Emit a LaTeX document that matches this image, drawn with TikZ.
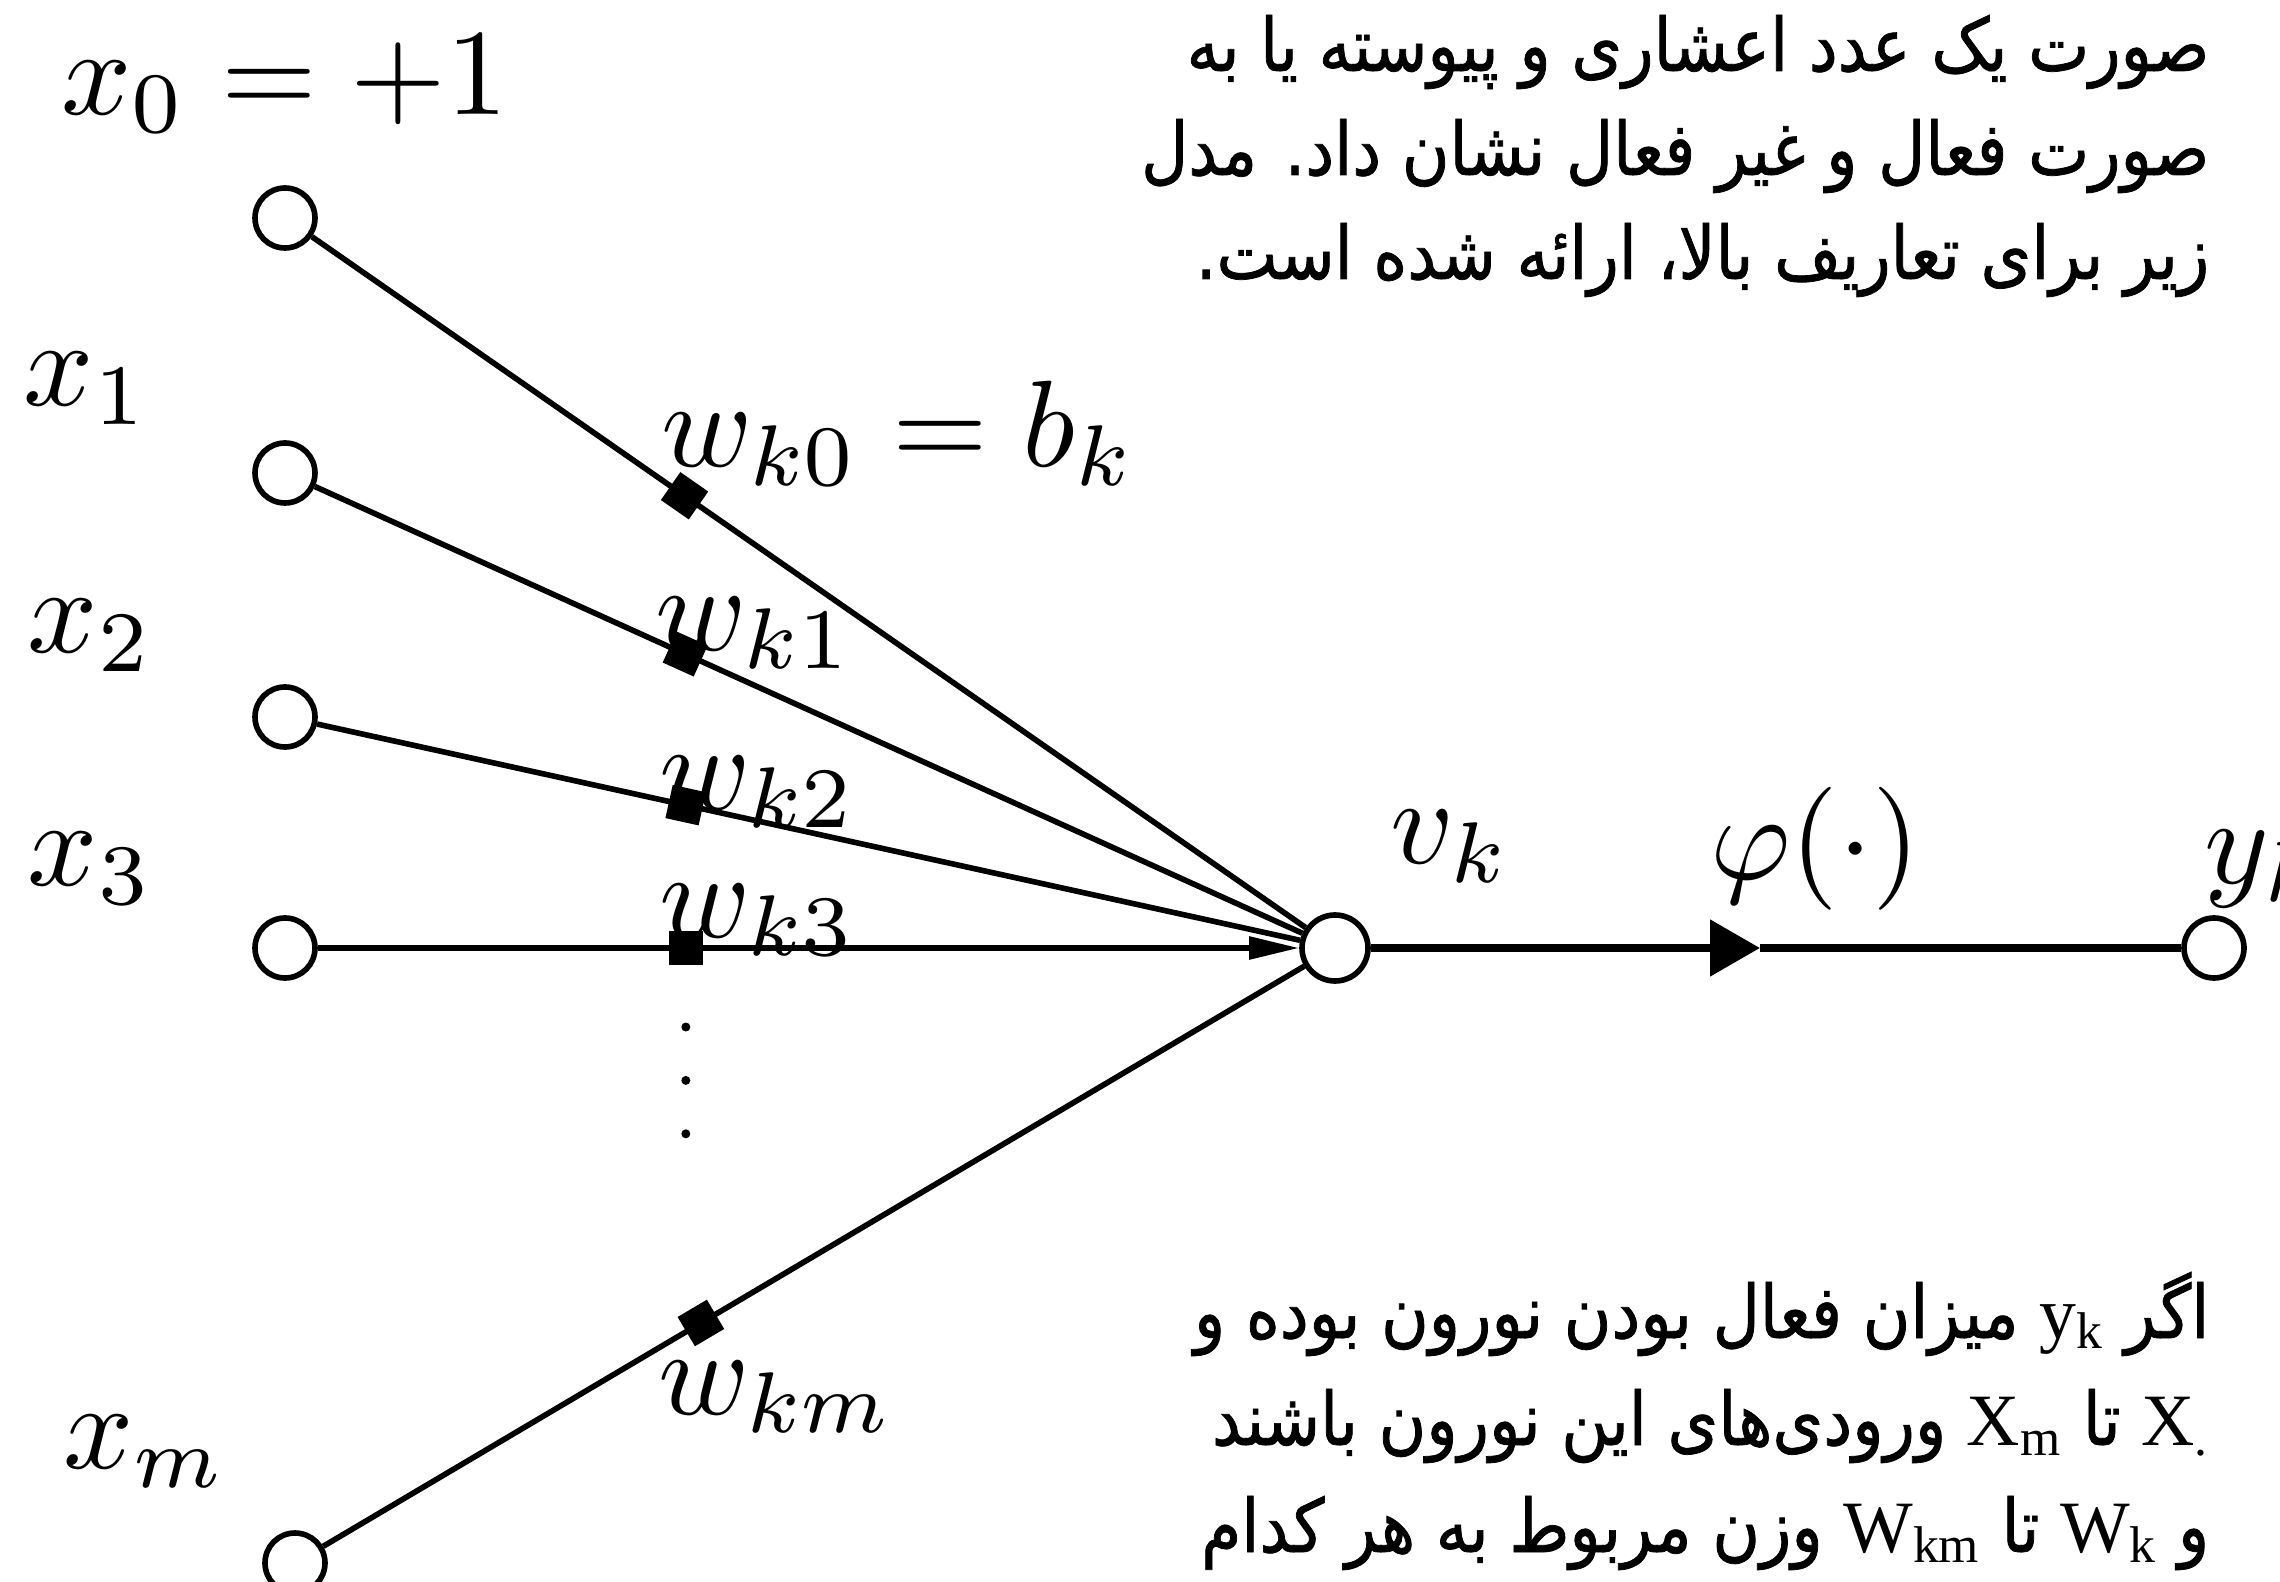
\documentclass[tikz,border=0pt]{standalone}
\usepackage{fontspec}
\usepackage{tikz}
\usetikzlibrary{arrows.meta, positioning}
\TeXXeTstate=1
\newfontfamily\farsifont[Script=Arabic, FakeStretch=0.88, FakeBold=1]{DejaVu Sans}
\newfontfamily\latinfont{Liberation Serif}

\begin{document}
\begin{tikzpicture}[
    inp/.style={circle, draw, line width=1.6pt, minimum size=0.6cm, inner sep=0pt},
    junc/.style={circle, draw, line width=1.6pt, minimum size=0.66cm, inner sep=0pt},
    wmark/.style={rectangle, fill=black, minimum size=0.34cm, inner sep=0pt, sloped},
    dotpt/.style={circle, fill=black, minimum size=0.09cm, inner sep=0pt},
    lbl/.style={inner sep=0pt, scale=3.5},
    fatext/.style={inner sep=0pt, font=\fontsize{21}{29}\farsifont},
    wire/.style={line width=1.6pt},
    outl/.style={line width=2.4pt},
]
\useasboundingbox (0,0) rectangle (22.8,15.81);
\clip (0,0) rectangle (22.8,15.81);

% inputs, summing junction, output
\node[inp] (x0) at (2.85,13.63) {};
\node[inp] (x1) at (2.85,11.08) {};
\node[inp] (x2) at (2.85,8.64) {};
\node[inp] (x3) at (2.85,6.33) {};
\node[inp] (xm) at (2.95,0.18) {};
\node[junc] (vk) at (13.35,6.33) {};
\node[inp] (yk) at (22.14,6.33) {};
\coordinate (phi) at (17.6,6.33);

% synapses
\draw[wire] (x0) -- node[wmark, pos=0.375] (m0) {} (vk);
\draw[wire] (x1) -- node[wmark, pos=0.375] (m1) {} (vk);
\draw[wire] (x2) -- node[wmark, pos=0.375] (m2) {} (vk);
\draw[wire, -{Triangle[length=0.5cm, width=0.22cm]}] (x3) -- node[wmark, pos=0.375] (m3) {} (vk);
\draw[wire] (xm) -- node[wmark, pos=0.385] (mm) {} (vk);

% output
\draw[outl, -{Triangle[length=0.5cm, width=0.55cm]}] (vk) -- (phi);
\draw[outl] (phi) -- (yk);

% labels
\node[lbl, above=0.5cm of x0] (lx0) {$x_0 = +1$};
\node[lbl, above left=0.23cm and 1.1cm of x1] (lx1) {$x_1$};
\node[lbl, above left=0.2cm and 1.06cm of x2] (lx2) {$x_2$};
\node[lbl, above left=0.18cm and 1.06cm of x3] (lx3) {$x_3$};
\node[lbl, above left=0.5cm and 0.42cm of xm] (lxm) {$x_m$};
\node[lbl, above right=0.08cm and -0.26cm of m0.center] (lw0) {$w_{k0} = b_k$};
\node[lbl, above right=-0.17cm and -0.32cm of m1.center] (lw1) {$w_{k1}$};
\node[lbl, above right=-0.25cm and -0.29cm of m2.center] (lw2) {$w_{k2}$};
\node[lbl, above right=-0.1cm and -0.29cm of m3.center] (lw3) {$w_{k3}$};
\node[lbl, below right=0.36cm and -0.45cm of mm.center] (lwm) {$w_{km}$};
\node[lbl, above right=0.38cm and 0.28cm of vk] (lvk) {$v_k$};
\node[lbl, above right=0.35cm and -0.52cm of phi] (lphi) {$\varphi(\cdot)$};
\node[lbl, above right=0.15cm and -0.35cm of yk] (lyk) {$y_k$};

% dots between x3 and xm
\node[dotpt, below=0.54cm of m3] (d1) {};
\node[dotpt, below=0.43cm of d1] (d2) {};
\node[dotpt, below=0.43cm of d2] (d3) {};

% text around the figure
\node[fatext, anchor=base east] (t1) at (22.1,15.1) {\beginR صورت یک عدد اعشاری و پیوسته یا به\endR};
\node[fatext, anchor=base east] (t2) at ([yshift=-1.04cm]t1.base east) {\beginR صورت فعال و غیر فعال نشان داد. مدل\endR};
\node[fatext, anchor=base east] (t3) at ([yshift=-1.04cm]t2.base east) {\beginR زیر برای تعاریف بالا، ارائه شده است.\endR};

\node[fatext, anchor=base east] (b1) at (22.1,2.43) {\beginR اگر \beginL{\latinfont y\textsubscript{k}}\endL{} میزان فعال بودن نورون بوده و\endR};
\node[fatext, anchor=base east] (b2) at ([yshift=-1.07cm]b1.base east) {\beginR\beginL{\latinfont X\textsubscript{.}}\endL{} تا \beginL{\latinfont X\textsubscript{m}}\endL{} ورودی‌های این نورون باشند\endR};
\node[fatext, anchor=base east] (b3) at ([yshift=-1.07cm]b2.base east) {\beginR و \beginL{\latinfont W\textsubscript{k}}\endL{} تا \beginL{\latinfont W\textsubscript{km}}\endL{} وزن مربوط به هر کدام\endR};

\end{tikzpicture}
\end{document}
